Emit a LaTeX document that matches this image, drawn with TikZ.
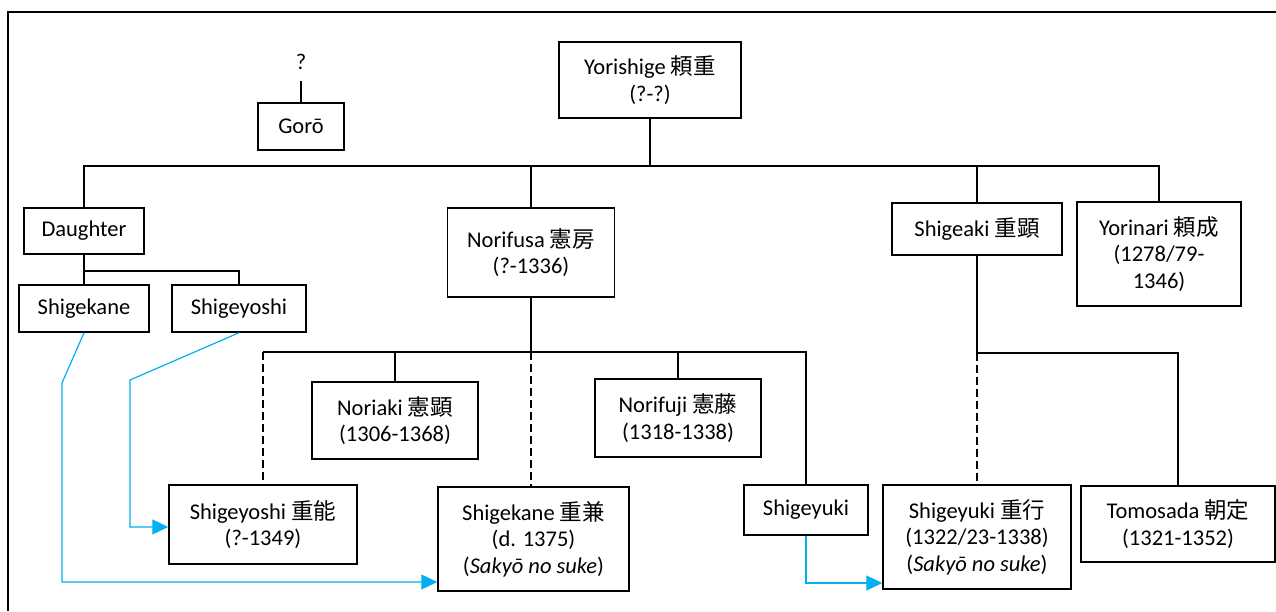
\documentclass[tikz,border=0pt]{standalone}
\usepackage{fontspec}
\setmainfont{Carlito}
\newfontfamily\cjk{Noto Sans CJK JP}
\usetikzlibrary{arrows.meta}
\definecolor{bluearrow}{RGB}{0,176,240}
\begin{document}
\begin{tikzpicture}[x=1pt,y=-1pt,
  box/.style={draw, line width=1.5pt, inner sep=0pt, align=center, font=\fontsize{22.5}{26.5}\selectfont},
  plain/.style={inner sep=0pt, font=\fontsize{22.5}{26.5}\selectfont},
  conn/.style={line width=1.5pt},
  dconn/.style={line width=1.5pt, dash pattern=on 8pt off 4pt},
  bl/.style={draw=bluearrow, line width=1.2pt, -{Triangle[length=16pt,width=15pt]}}]
\useasboundingbox (0,0) rectangle (1276,611);
\draw[conn] (1276,12) -- (8,12) -- (8,611);
% nodes
\node[plain] (q) at (301,62) {?};
\node[box, minimum width=86pt, minimum height=47pt] (goro) at (301,126.5) {Gorō};
\node[box, minimum width=182pt, minimum height=76pt] (yori) at (650,80) {Yorishige {\cjk 頼重}\\(?-?)};
\node[box, minimum width=120pt, minimum height=46pt] (daughter) at (84,231) {Daughter};
\node[box, minimum width=130pt, minimum height=47pt] (shigekaneA) at (84,308.5) {Shigekane};
\node[box, minimum width=134pt, minimum height=47pt] (shigeyoshiA) at (239,308.5) {Shigeyoshi};
\node[box, minimum width=167pt, minimum height=89pt] (norifusa) at (531,252.5) {Norifusa {\cjk 憲房}\\(?-1336)};
\node[box, minimum width=170pt, minimum height=52pt] (shigeaki) at (977,229) {Shigeaki {\cjk 重顕}};
\node[box, minimum width=164pt, minimum height=104pt] (yorinari) at (1159,254) {Yorinari {\cjk 頼成}\\(1278/79-\\1346)};
\node[box, minimum width=166pt, minimum height=77pt] (noriaki) at (395,420.5) {Noriaki {\cjk 憲顕}\\(1306-1368)};
\node[box, minimum width=166pt, minimum height=78pt] (norifuji) at (678,418) {Norifuji {\cjk 憲藤}\\(1318-1338)};
\node[box, minimum width=188pt, minimum height=79pt] (shigeyoshiB) at (263,524.5) {Shigeyoshi {\cjk 重能}\\(?-1349)};
\node[box, minimum width=191pt, minimum height=104pt] (shigekaneB) at (533.5,539) {Shigekane {\cjk 重兼}\\(d. 1375)\\(\textit{Sakyō no suke})};
\node[box, minimum width=124pt, minimum height=50pt] (shigeyukiA) at (806,510) {Shigeyuki};
\node[box, minimum width=188pt, minimum height=104pt] (shigeyukiB) at (977,537) {Shigeyuki {\cjk 重行}\\(1322/23-1338)\\(\textit{Sakyō no suke})};
\node[box, minimum width=194pt, minimum height=76pt] (tomosada) at (1178,524) {Tomosada {\cjk 朝定}\\(1321-1352)};
% coordinates for bus lines
\coordinate (busA) at (600,166);
\coordinate (busB) at (0,271);
\coordinate (busC) at (0,352);
\coordinate (busD) at (0,353);
% Gorō
\draw[conn, shorten <=11pt] (q.south) -- (goro.north);
% first generation
\draw[conn] (daughter.north) |- (busA) -| (yorinari.north);
\draw[conn] (yori.south) -- (yori.south |- busA);
\draw[conn] (norifusa.north) -- (norifusa.north |- busA);
\draw[conn] (shigeaki.north) -- (shigeaki.north |- busA);
% daughter's children
\draw[conn] (daughter.south) |- (shigeyoshiA.north |- busB) -- (shigeyoshiA.north);
\draw[conn] (shigekaneA.north) -- (shigekaneA.north |- busB);
% Norifusa's children
\draw[conn] (norifusa.south) -- (norifusa.south |- busC);
\draw[conn] (shigeyoshiB.north |- busC) -- (shigeyukiA.north |- busC) -- (shigeyukiA.north);
\draw[dconn] (shigeyoshiB.north |- busC) -- (shigeyoshiB.north);
\draw[conn] (noriaki.north) -- (noriaki.north |- busC);
\draw[conn] (norifuji.north) -- (norifuji.north |- busC);
\draw[dconn] (norifusa.south |- busC) -- (norifusa.south |- shigekaneB.north);
% Shigeaki's children
\draw[conn] (shigeaki.south) -- (shigeaki.south |- busD) -| (tomosada.north);
\draw[dconn] (shigeaki.south |- busD) -- (shigeaki.south |- shigeyukiB.north);
% blue arrows
\coordinate (kA) at (62,383);
\coordinate (kAe) at (0,582);
\draw[bl] (shigekaneA.south) -- (kA) |- (shigekaneB.west |- kAe);
\coordinate (kB) at (130,380);
\coordinate (kBe) at (0,527);
\draw[bl] (shigeyoshiA.south) -- (kB) |- (shigeyoshiB.west |- kBe);
\coordinate (kCe) at (0,583);
\draw[bl] (shigeyukiA.south) |- (shigeyukiB.west |- kCe);
\end{tikzpicture}
\end{document}
